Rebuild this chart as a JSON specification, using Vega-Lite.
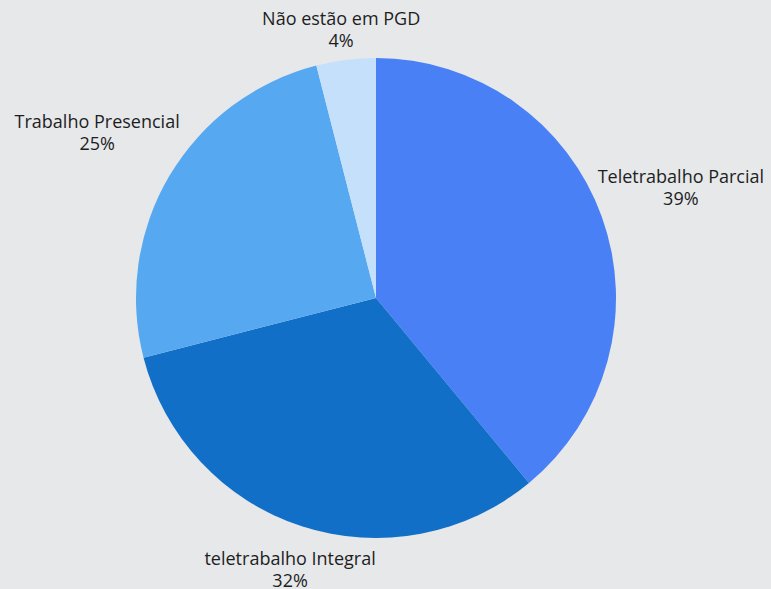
{
  "$schema": "https://vega.github.io/schema/vega-lite/v6.json",
  "autosize": "none",
  "width": 752,
  "height": 582,
  "padding": {"left": 0, "top": 7, "right": 19, "bottom": 0},
  "background": "#e6e8ea",
  "config": {"view": {"stroke": null}, "font": "Open Sans"},
  "data": {
    "values": [
      {"categoria": "Teletrabalho Parcial", "valor": 0.39},
      {"categoria": "teletrabalho Integral", "valor": 0.32},
      {"categoria": "Trabalho Presencial", "valor": 0.25},
      {"categoria": "Não estão em PGD", "valor": 0.04}
    ]
  },
  "encoding": {
    "theta": {"field": "valor", "type": "quantitative", "stack": true},
    "order": {"field": "valor", "type": "quantitative", "sort": "descending"}
  },
  "layer": [
    {
      "mark": {"type": "arc", "outerRadius": 240},
      "encoding": {
        "color": {
          "field": "categoria",
          "type": "nominal",
          "legend": null,
          "scale": {
            "domain": ["Teletrabalho Parcial", "teletrabalho Integral", "Trabalho Presencial", "Não estão em PGD"],
            "range": ["#4a80f6", "#116fc8", "#56a8f0", "#c5e0fa"]
          }
        }
      }
    },
    {
      "mark": {"type": "text", "radius": 324, "dy": -10, "fontSize": 18, "color": "#1e1e1e", "font": "Open Sans"},
      "encoding": {
        "text": {"condition": {"test": "datum.categoria === 'Teletrabalho Parcial' || datum.categoria === 'Trabalho Presencial'", "field": "categoria", "type": "nominal"}, "value": ""}
      }
    },
    {
      "mark": {"type": "text", "radius": 324, "dy": 12, "fontSize": 18, "color": "#1e1e1e", "font": "Open Sans"},
      "encoding": {
        "text": {"condition": {"test": "datum.categoria === 'Teletrabalho Parcial' || datum.categoria === 'Trabalho Presencial'", "field": "valor", "type": "quantitative", "format": ".0%"}, "value": ""}
      }
    },
    {
      "mark": {"type": "text", "radius": 278, "dy": -2, "fontSize": 18, "color": "#1e1e1e", "font": "Open Sans"},
      "encoding": {
        "text": {"condition": {"test": "datum.categoria === 'teletrabalho Integral' || datum.categoria === 'Não estão em PGD'", "field": "categoria", "type": "nominal"}, "value": ""}
      }
    },
    {
      "mark": {"type": "text", "radius": 278, "dy": 20, "fontSize": 18, "color": "#1e1e1e", "font": "Open Sans"},
      "encoding": {
        "text": {"condition": {"test": "datum.categoria === 'teletrabalho Integral' || datum.categoria === 'Não estão em PGD'", "field": "valor", "type": "quantitative", "format": ".0%"}, "value": ""}
      }
    }
  ]
}
